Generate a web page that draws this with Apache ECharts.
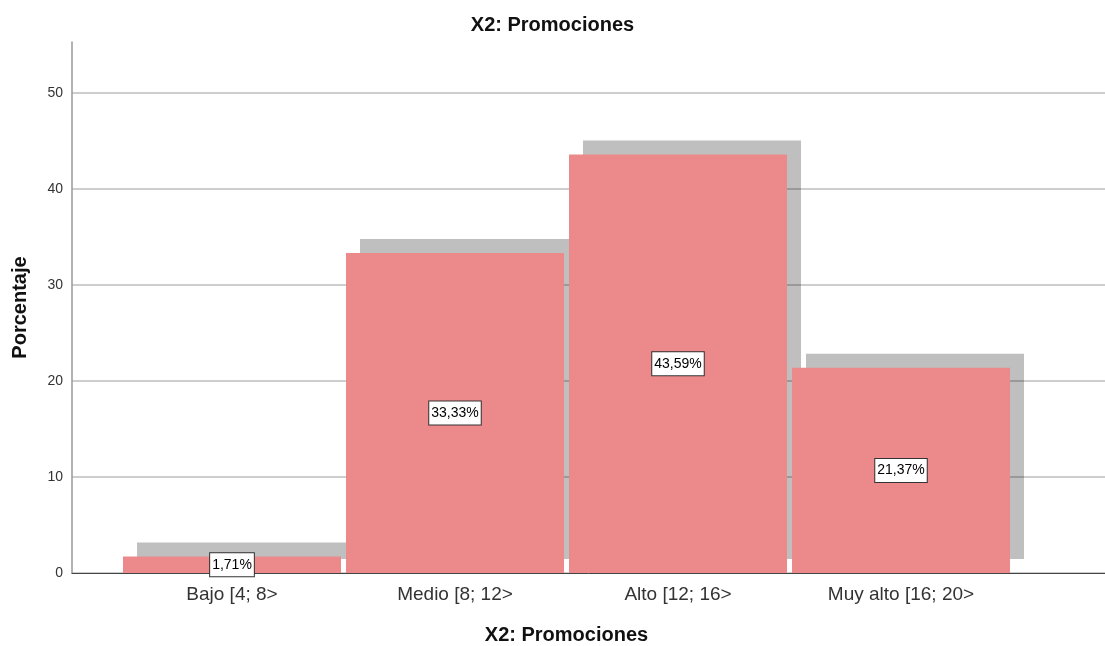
<!DOCTYPE html>
<html>
<head>
<meta charset="utf-8">
<title>X2: Promociones</title>
<script src="https://cdn.jsdelivr.net/npm/echarts@6/dist/echarts.min.js"></script>
<style>
  html, body { margin: 0; padding: 0; background: #fff; }
  #main { width: 1105px; height: 646px; }
</style>
</head>
<body>
<div id="main"></div>
<script>
// datos del gráfico
var categorias = ['Bajo [4; 8>', 'Medio [8; 12>', 'Alto [12; 16>', 'Muy alto [16; 20>'];
var porcentajes = [1.71, 33.33, 43.59, 21.37];

var chart = echarts.init(document.getElementById('main'));

var fuente = 'Liberation Sans, Arial, sans-serif';

var option = {
    backgroundColor: '#ffffff',
    textStyle: { fontFamily: fuente },
    animation: false,
    title: {
        text: 'X2: Promociones',
        left: 'center',
        top: 10,
        textStyle: { fontSize: 20, fontWeight: 'bold', color: '#111', fontFamily: fuente }
    },
    grid: [
        // marco: ejes y líneas de cuadrícula
        { left: 72, right: 0, top: 42, bottom: 73, outerBoundsMode: 'none' },
        // barras
        { left: 120.5, right: 92.5, top: 42, bottom: 73, outerBoundsMode: 'none' }
    ],
    xAxis: [
        {
            gridIndex: 0,
            type: 'value',
            min: 0,
            max: 1,
            axisLine: { show: true, lineStyle: { color: '#444', width: 1 } },
            axisTick: { show: false },
            axisLabel: { show: false },
            splitLine: { show: false }
        },
        {
            gridIndex: 1,
            type: 'category',
            data: categorias,
            axisLine: { show: false },
            axisTick: { show: false },
            axisLabel: { fontSize: 19, color: '#333', margin: 12, fontFamily: fuente },
            name: 'X2: Promociones',
            nameLocation: 'middle',
            nameGap: 52,
            nameTextStyle: { fontSize: 20, fontWeight: 'bold', color: '#111', fontFamily: fuente }
        }
    ],
    yAxis: [
        {
            gridIndex: 0,
            type: 'value',
            min: 0,
            max: 55.3,
            interval: 10,
            axisLine: { show: true, lineStyle: { color: '#999', width: 1.5 } },
            axisTick: { show: false },
            axisLabel: { fontSize: 14, color: '#333', margin: 9, showMaxLabel: false, fontFamily: fuente },
            splitLine: { show: true, showMaxLine: false, lineStyle: { color: '#bdbdbd', width: 1.5 } },
            name: 'Porcentaje',
            nameLocation: 'middle',
            nameRotate: 90,
            nameGap: 42,
            nameTextStyle: { fontSize: 20, fontWeight: 'bold', color: '#111', fontFamily: fuente }
        },
        {
            gridIndex: 1,
            type: 'value',
            min: 0,
            max: 55.3,
            interval: 10,
            show: false
        }
    ],
    series: [{
        type: 'bar',
        xAxisIndex: 1,
        yAxisIndex: 1,
        data: porcentajes,
        barWidth: 218,
        itemStyle: {
            color: '#ec898a',
            shadowColor: 'rgba(0, 0, 0, 0.25)',
            shadowBlur: 0,
            shadowOffsetX: 14,
            shadowOffsetY: -14
        },
        label: {
            show: true,
            position: 'inside',
            formatter: function (p) {
                return p.value.toFixed(2).replace('.', ',') + '%';
            },
            fontSize: 14,
            color: '#000',
            fontFamily: fuente,
            backgroundColor: '#fff',
            borderColor: '#333',
            borderWidth: 1,
            padding: [5, 2, 4, 2]
        },
        emphasis: { disabled: true }
    }]
};

chart.setOption(option);
</script>
</body>
</html>
